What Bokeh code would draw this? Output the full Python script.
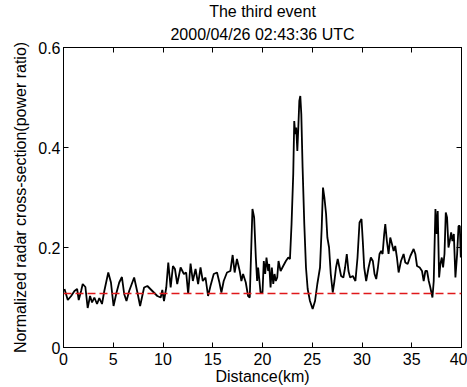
from bokeh.plotting import figure
from bokeh.models import LinearAxis, Span, Title, FixedTicker, Range1d
from bokeh.embed import file_html
from bokeh.resources import INLINE

title_line1 = "The third event"
title_line2 = "2000/04/26 02:43:36 UTC"
x_label = "Distance(km)"
y_label = "Normalized radar cross-section(power ratio)"

x_ticks = [0, 5, 10, 15, 20, 25, 30, 35, 40]
y_ticks = [0, 0.2, 0.4, 0.6]
y_tick_labels = ["0", "0.2", "0.4", "0.6"]

threshold = 0.108

distance_km = [
    0.1, 0.43, 0.77, 1.1, 1.37, 1.53, 1.77, 1.93, 2.2, 2.43, 2.67, 2.87, 3.1, 3.37,
    3.6, 3.87, 4.1, 4.5, 4.77, 5.03, 5.33, 5.6, 5.87, 6.1, 6.33, 6.6, 7.1, 7.43,
    7.7, 8.1, 8.43, 8.93, 9.43, 9.77, 9.93, 10.1, 10.33, 10.53, 10.77, 11.0, 11.2,
    11.43, 11.77, 12.1, 12.33, 12.53, 12.77, 13.0, 13.27, 13.53, 13.77, 14.0, 14.27,
    14.53, 14.77, 15.1, 15.43, 15.67, 15.87, 16.1, 16.43, 16.77, 17.0, 17.2, 17.43,
    17.71, 17.88, 18.05, 18.32, 18.55, 18.72, 18.89, 18.99, 19.16, 19.33, 19.46,
    19.56, 19.66, 19.8, 20.0, 20.13, 20.27, 20.4, 20.57, 20.67, 20.81, 20.94, 21.08,
    21.21, 21.34, 21.48, 21.61, 21.82, 22.08, 22.35, 22.59, 22.76, 22.92, 23.09,
    23.19, 23.29, 23.39, 23.5, 23.6, 23.7, 23.8, 23.9, 24.03, 24.2, 24.37, 24.54,
    24.77, 25.04, 25.28, 25.51, 25.78, 25.95, 26.08, 26.22, 26.39, 26.52, 26.69,
    26.86, 27.06, 27.23, 27.39, 27.56, 27.73, 27.9, 28.13, 28.3, 28.47, 28.64,
    28.81, 29.08, 29.34, 29.55, 29.75, 29.95, 30.08, 30.22, 30.42, 30.66, 30.89,
    31.09, 31.26, 31.43, 31.6, 31.76, 31.93, 32.07, 32.23, 32.34, 32.5, 32.67,
    32.84, 33.01, 33.18, 33.34, 33.51, 33.68, 33.92, 34.18, 34.35, 34.59, 34.86,
    35.19, 35.36, 35.53, 35.8, 36.03, 36.2, 36.37, 36.54, 36.71, 36.87, 37.08,
    37.21, 37.38, 37.51, 37.61, 37.75, 37.88, 38.02, 38.15, 38.29, 38.42, 38.55,
    38.69, 38.82, 38.96, 39.09, 39.23, 39.39, 39.56, 39.7, 39.83, 39.93, 40.0,
]

power_ratio = [
    0.117, 0.095, 0.103, 0.113, 0.117, 0.095, 0.113, 0.127, 0.121, 0.079, 0.103,
    0.09, 0.1, 0.087, 0.099, 0.087, 0.113, 0.15, 0.13, 0.083, 0.11, 0.13, 0.141,
    0.107, 0.093, 0.113, 0.14, 0.11, 0.083, 0.12, 0.123, 0.113, 0.103, 0.1, 0.115,
    0.093, 0.12, 0.17, 0.12, 0.163, 0.157, 0.127, 0.16, 0.147, 0.15, 0.107, 0.168,
    0.133, 0.157, 0.127, 0.16, 0.133, 0.14, 0.103, 0.123, 0.147, 0.15, 0.13, 0.11,
    0.133, 0.15, 0.153, 0.185, 0.15, 0.177,
    0.153, 0.133, 0.147, 0.13, 0.103, 0.1, 0.213, 0.277, 0.26, 0.18, 0.133, 0.16,
    0.14, 0.11, 0.11, 0.173, 0.147, 0.18, 0.153, 0.167, 0.12, 0.16, 0.127, 0.147,
    0.133, 0.14, 0.173, 0.153, 0.163, 0.173, 0.18, 0.177, 0.247, 0.347, 0.453,
    0.427, 0.44, 0.393, 0.44, 0.493, 0.503, 0.467, 0.36, 0.247, 0.16, 0.117, 0.093,
    0.077, 0.093, 0.127, 0.16, 0.24, 0.32, 0.3, 0.267, 0.22, 0.2, 0.147, 0.11,
    0.133, 0.16, 0.177, 0.16, 0.143, 0.14, 0.16, 0.187, 0.153, 0.14, 0.143, 0.133,
    0.18, 0.25, 0.257, 0.213, 0.16, 0.133, 0.16, 0.18, 0.173, 0.147, 0.137, 0.16,
    0.187, 0.193, 0.187, 0.227, 0.247, 0.213, 0.187, 0.22, 0.207, 0.193, 0.203,
    0.18, 0.15, 0.173, 0.187, 0.17, 0.167, 0.183, 0.197, 0.187, 0.163, 0.16, 0.153,
    0.133, 0.153, 0.153, 0.133, 0.12, 0.1, 0.133, 0.277, 0.227, 0.273, 0.14, 0.167,
    0.18, 0.16, 0.187, 0.27, 0.26, 0.2, 0.213, 0.23, 0.213, 0.227, 0.14, 0.187,
    0.243, 0.243, 0.18, 0.213,
]

FONT = "Liberation Sans"
FS = "16px"

p = figure(
    width=467, height=387,
    x_range=Range1d(0, 40), y_range=Range1d(0, 0.6),
    title=None, toolbar_location=None, output_backend="svg",
    min_border_left=63, min_border_right=6, min_border_top=47, min_border_bottom=40,
)
p.background_fill_color = "white"
p.border_fill_color = "white"
p.outline_line_color = "black"
p.outline_line_width = 1
p.grid.visible = False

def style_axis(ax, ticks, show_labels):
    ax.ticker = FixedTicker(ticks=ticks)
    ax.major_tick_in = 5
    ax.major_tick_out = 0
    ax.minor_tick_line_color = None
    ax.axis_line_color = "black"
    ax.major_tick_line_color = "black"
    ax.major_label_text_font = FONT
    ax.axis_label_text_font = FONT
    ax.axis_label_text_font_style = "normal"
    ax.axis_label_text_color = "black"
    if show_labels:
        ax.major_label_text_color = "black"
        ax.major_label_text_font_size = FS
        ax.axis_label_text_font_size = FS
    else:
        ax.major_label_text_color = None
        ax.major_label_text_font_size = "0px"
        ax.major_label_standoff = 0

xa = p.xaxis[0]
style_axis(xa, x_ticks, True)
xa.axis_label = x_label
xa.major_label_standoff = 5
xa.axis_label_standoff = 0

ya = p.yaxis[0]
style_axis(ya, y_ticks, True)
ya.axis_label = y_label
ya.major_label_overrides = dict(zip(y_ticks, y_tick_labels))
ya.major_label_standoff = 3
ya.axis_label_standoff = 6

top_axis = LinearAxis()
style_axis(top_axis, x_ticks, False)
p.add_layout(top_axis, "above")
right_axis = LinearAxis()
style_axis(right_axis, y_ticks, False)
p.add_layout(right_axis, "right")

p.add_layout(Title(text=title_line2, align="center", text_font=FONT, text_font_size=FS,
                   text_font_style="normal", text_color="black", standoff=9), "above")
p.add_layout(Title(text=title_line1, align="center", text_font=FONT, text_font_size=FS,
                   text_font_style="normal", text_color="black", standoff=0), "above")

p.add_layout(Span(location=threshold, dimension="width", line_color="#e0181b",
                  line_width=1.5, line_dash="8 4"))
p.line(distance_km, power_ratio, line_color="black", line_width=1.8)

open("out.html", "w").write(file_html(p, INLINE))
